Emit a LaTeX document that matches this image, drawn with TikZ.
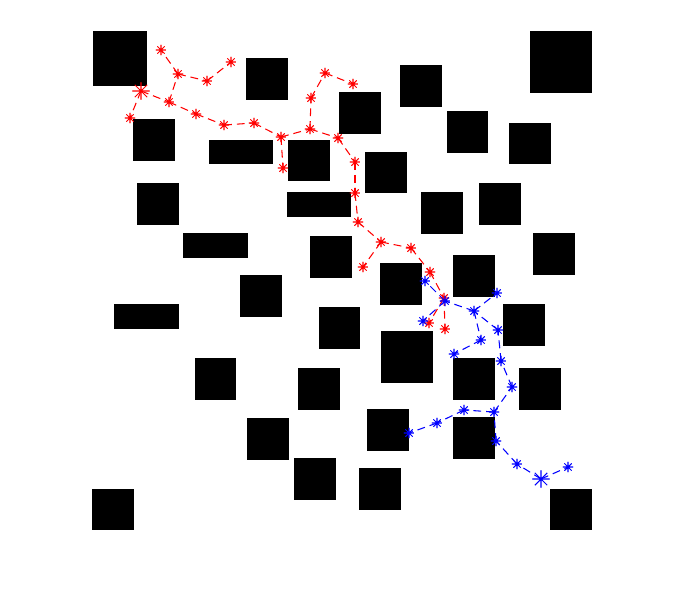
\documentclass[tikz,border=0pt]{standalone}
\usetikzlibrary{positioning}
\begin{document}
\begin{tikzpicture}[x=0.02cm, y=-0.02cm,
  obst/.style={fill=black},
  vtx/.style={circle, inner sep=0pt, minimum size=#1, line width=0.6pt,
              path picture={
                \draw (path picture bounding box.north) -- (path picture bounding box.south)
                      (path picture bounding box.east) -- (path picture bounding box.west)
                      (path picture bounding box.north east) -- (path picture bounding box.south west)
                      (path picture bounding box.north west) -- (path picture bounding box.south east);}},
  vtx/.default=6pt,
  rv/.style={vtx=#1, red}, rv/.default=6pt,
  bv/.style={vtx=#1, blue}, bv/.default=6pt,
  redge/.style={red, line width=0.6pt, dash pattern=on 4.5pt off 2.8pt},
  bedge/.style={blue, line width=0.6pt, dash pattern=on 4.5pt off 2.8pt}
]
  \useasboundingbox (0,0) rectangle (686,612);

  % obstacles
  \foreach \xa/\ya/\xb/\yb in {93/31/147/86, 530/31/592/93, 246/58/288/100, 400/65/442/107,
      339/92/381/134, 447/111/488/153, 509/123/551/164, 133/119/175/161, 209/140/273/164,
      288/140/330/181, 365/152/407/193, 137/183/179/225, 287/192/351/217, 421/192/463/234,
      479/183/521/225, 183/233/248/258, 310/236/352/278, 533/233/575/275, 453/255/495/297,
      380/263/422/305, 240/275/282/317, 114/304/179/329, 503/304/545/346, 319/307/360/349,
      381/331/433/383, 195/358/236/400, 453/358/495/400, 298/368/340/410, 519/368/561/410,
      367/409/409/451, 247/418/289/460, 453/417/495/459, 294/458/336/500, 359/468/401/510,
      92/489/134/530, 550/489/592/530}
    \fill[obst] (\xa,\ya) rectangle (\xb,\yb);

  % tree grown from the start
  \node[rv=10pt] (r0) at (141,91) {};
  \foreach \n/\x/\y in {1/169/102, 2/178/74, 3/161/50, 4/207/81, 5/231/62, 6/130/118,
      7/196/114, 8/224/125, 9/254/123, 10/281/137, 11/283/168, 12/310/129, 13/311/98,
      14/325/73, 15/353/84, 16/338/138, 17/355/162, 18/355/193, 19/358/222, 20/381/242,
      21/363/267, 22/411/248, 23/430/272, 24/444/298, 25/429/323, 26/445/329}
    \node[rv] (r\n) at (\x,\y) {};
  \foreach \a/\b in {0/1, 0/6, 1/2, 2/3, 2/4, 4/5, 1/7, 7/8, 8/9, 9/10, 10/11, 10/12,
      12/13, 13/14, 14/15, 12/16, 16/17, 17/18, 18/19, 19/20, 20/21, 20/22, 22/23,
      23/24, 24/25, 24/26}
    \draw[redge] (r\a.center) -- (r\b.center);

  % tree grown from the goal
  \node[bv=10pt] (b0) at (541,479) {};
  \foreach \n/\x/\y in {1/568/467, 2/517/464, 3/496/441, 4/494/412, 5/464/410, 6/437/423,
      7/409/433, 8/512/387, 9/501/361, 10/498/330, 11/474/311, 12/497/293, 13/481/340,
      14/454/354, 15/445/301, 16/425/281, 17/423/321}
    \node[bv] (b\n) at (\x,\y) {};
  \foreach \a/\b in {0/1, 0/2, 2/3, 3/4, 4/5, 5/6, 6/7, 4/8, 8/9, 9/10, 10/11, 11/12,
      11/13, 13/14, 11/15, 15/16, 15/17}
    \draw[bedge] (b\a.center) -- (b\b.center);
\end{tikzpicture}
\end{document}
